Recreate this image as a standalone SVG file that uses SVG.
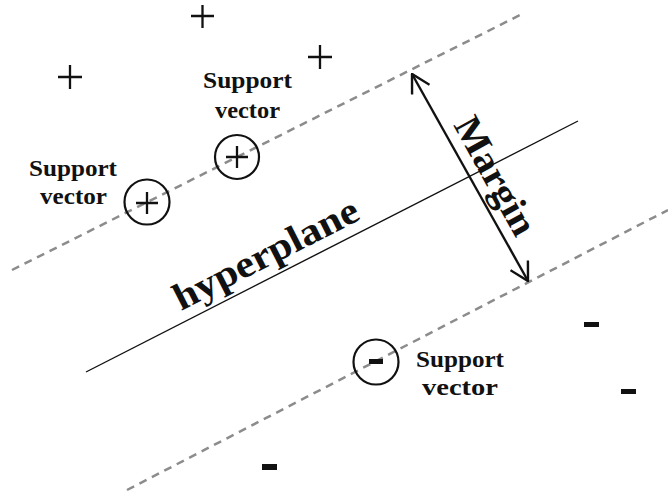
<svg xmlns="http://www.w3.org/2000/svg" width="668" height="499" viewBox="0 0 668 499">
<style>
.lbl{font-family:"Liberation Serif","Times New Roman",serif;font-weight:bold;font-size:24px;fill:#111;text-anchor:middle}
.big{font-family:"Liberation Serif","Times New Roman",serif;font-weight:bold;font-size:38px;fill:#111}
.plus{stroke:#111;stroke-width:2.3;fill:none}
.ring{stroke:#111;stroke-width:2.2;fill:none}
.minus{fill:#111}
.dash{stroke:#8c8c8c;stroke-width:2.5;stroke-dasharray:8 6;fill:none}
</style>
<defs>
<marker id="vhead" viewBox="0 0 20 22" refX="19" refY="11" markerWidth="20" markerHeight="22" markerUnits="userSpaceOnUse" orient="auto-start-reverse">
<path d="M1,1 L19,11 L1,21" fill="none" stroke="#111" stroke-width="2.4"/>
</marker>
</defs>
<rect width="668" height="499" fill="#fff"/>
<g id="connectors">
<line class="dash" x1="12" y1="270" x2="520" y2="15"/>
<line class="dash" x1="127" y1="490" x2="668" y2="210"/>
<line id="hyperplane-line" x1="86" y1="372" x2="578" y2="121" stroke="#111" stroke-width="1.4"/>
<line id="margin-arrow" x1="412" y1="74" x2="528" y2="281" stroke="#111" stroke-width="2.4" marker-start="url(#vhead)" marker-end="url(#vhead)"/>
</g>
<g id="plus1"><path class="plus" d="M191,16 H214 M202.5,5 V28"/></g>
<g id="plus2"><path class="plus" d="M58,77 H82 M70,65 V89"/></g>
<g id="plus3"><path class="plus" d="M308,57 H332 M320,45 V69"/></g>
<g id="sv-plus1"><circle class="ring" cx="237" cy="157" r="22"/><path class="plus" d="M226,157 H248 M237,146 V168"/></g>
<g id="sv-plus2"><circle class="ring" cx="147" cy="202" r="22.5"/><path class="plus" d="M136,203 H158 M147,192 V214"/></g>
<g id="sv-minus"><circle class="ring" cx="376" cy="362" r="22.5"/><rect class="minus" x="369" y="359" width="14" height="5"/></g>
<g id="minus1"><rect class="minus" x="584" y="322" width="15" height="5"/></g>
<g id="minus2"><rect class="minus" x="621" y="389" width="15" height="5"/></g>
<g id="minus3"><rect class="minus" x="262" y="464" width="15" height="6"/></g>
<g id="label-sv1"><text class="lbl" x="247.5" y="88" textLength="89" lengthAdjust="spacingAndGlyphs">Support</text><text class="lbl" x="247.5" y="118" textLength="65" lengthAdjust="spacingAndGlyphs">vector</text></g>
<g id="label-sv2"><text class="lbl" x="73" y="176" textLength="88" lengthAdjust="spacingAndGlyphs">Support</text><text class="lbl" x="73.5" y="204" textLength="67" lengthAdjust="spacingAndGlyphs">vector</text></g>
<g id="label-sv3"><text class="lbl" x="460" y="367" textLength="88" lengthAdjust="spacingAndGlyphs">Support</text><text class="lbl" x="460" y="395" textLength="76" lengthAdjust="spacingAndGlyphs">vector</text></g>
<g id="label-hyperplane"><text class="big" transform="translate(181,311) rotate(-27)" textLength="203" lengthAdjust="spacingAndGlyphs">hyperplane</text></g>
<g id="label-margin"><text class="big" transform="translate(453,125) rotate(61)" textLength="130" lengthAdjust="spacingAndGlyphs">Margin</text></g>
</svg>
